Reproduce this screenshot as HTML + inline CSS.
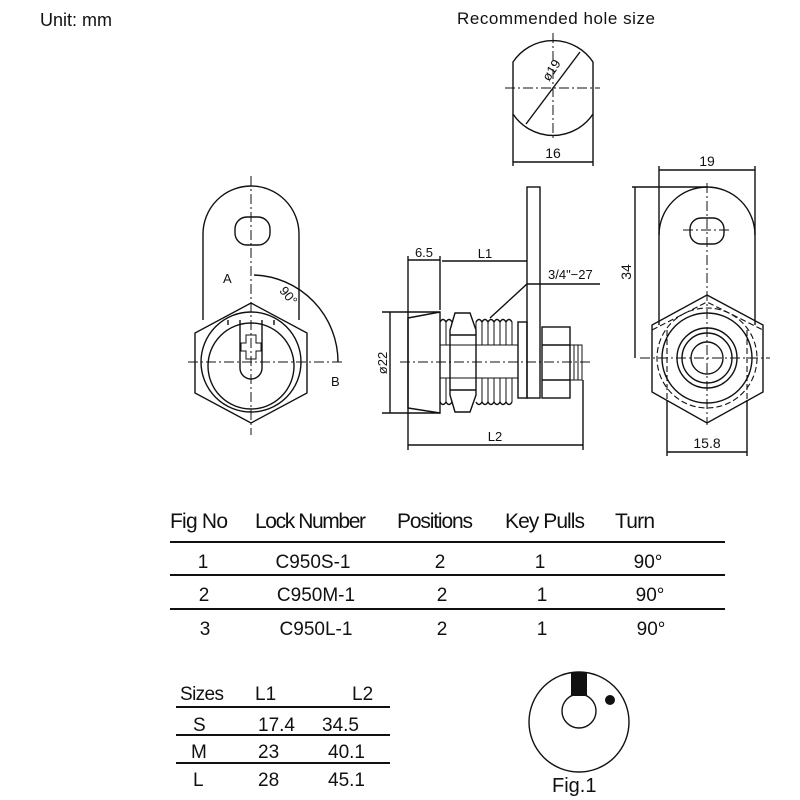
<!DOCTYPE html>
<html><head><meta charset="utf-8"><style>html,body{margin:0;padding:0;background:#fff}svg{display:block}text{font-family:"Liberation Sans Narrow","Liberation Sans",sans-serif;fill:#111}</style></head><body>
<svg width="800" height="800" viewBox="0 0 800 800" xmlns="http://www.w3.org/2000/svg">
<g fill="none" stroke="#111" stroke-width="1.4">
<!-- Hole -->
<path d="M513,62 A48,48 0 0 1 593,62 L593,114 A48,48 0 0 1 513,114 Z"/>
<line x1="526" y1="124" x2="580" y2="52"/>
<g stroke-dasharray="10,3,2,3" stroke-width="1"><line x1="505" y1="88" x2="600" y2="88"/><line x1="553" y1="33" x2="553" y2="140"/></g>
<line x1="513" y1="114" x2="513" y2="166"/><line x1="593" y1="114" x2="593" y2="166"/><line x1="513" y1="162" x2="593" y2="162"/>
<!-- Left view -->
<path d="M203,320 L203,234 A48,48 0 0 1 299,234 L299,320"/>
<rect x="235" y="217" width="35" height="28" rx="12"/>
<polygon points="251,303 307,333 307,393 251,423 195,393 195,333"/>
<circle cx="251" cy="362" r="50"/><circle cx="251" cy="366" r="43"/>
<path d="M228,325 L228,320 M274,325 L274,320 M240,320 L240,368 A11,11 0 0 0 262,368 L262,320"/>
<path d="M246,335 h10 v8 h5 v8 h-5 v8 h-10 v-8 h-5 v-8 h5 z" stroke-width="1"/>
<path d="M254,275 A87,87 0 0 1 338,362"/>
<g stroke-dasharray="10,3,2,3" stroke-width="1"><line x1="188" y1="362" x2="342" y2="362"/><line x1="251" y1="176" x2="251" y2="435"/></g>
<!-- Side view -->
<rect x="527" y="187" width="13" height="211"/>
<polygon points="408,318 440,312 440,413 408,408"/>
<path d="M440,322 q3,-5 6,0 q3,-5 6,0 M476,322 q3,-5 6,0 q3,-5 6,0 q3,-5 6,0 q3,-5 6,0 q3,-5 6,0 q3,-5 6,0 M440,402 q3,5 6,0 q3,5 6,0 M476,402 q3,5 6,0 q3,5 6,0 q3,5 6,0 q3,5 6,0 q3,5 6,0 q3,5 6,0"/>
<path d="M440,322 v80 M440,345 h78 M440,378 h78 M446,322 v23 M476,322 v23 M482,322 v23 M488,322 v23 M494,322 v23 M500,322 v23 M506,322 v23 M512,322 v23 M446,378 v24 M482,378 v24 M488,378 v24 M494,378 v24 M500,378 v24 M506,378 v24 M512,378 v24" stroke-width="1"/>
<polygon points="455,313 470,313 476,330 476,395 470,412 455,412 450,395 450,330"/>
<line x1="450" y1="335" x2="476" y2="335"/><line x1="450" y1="390" x2="476" y2="390"/>
<rect x="518" y="322" width="9" height="76"/>
<rect x="542" y="327" width="28" height="71"/><line x1="542" y1="345" x2="570" y2="345"/><line x1="542" y1="380" x2="570" y2="380"/>
<path d="M570,345 h12 v35 h-12 M574,345 v35 M578,345 v35" stroke-width="1"/>
<g stroke-dasharray="10,3,2,3" stroke-width="1"><line x1="400" y1="362" x2="590" y2="362"/></g>
<line x1="408" y1="256" x2="408" y2="450"/><line x1="440" y1="256" x2="440" y2="310"/><line x1="408" y1="260" x2="440" y2="260"/>
<line x1="442" y1="261" x2="527" y2="261"/><line x1="583" y1="380" x2="583" y2="450"/><line x1="408" y1="445" x2="583" y2="445"/>
<line x1="382" y1="312" x2="440" y2="312"/><line x1="382" y1="413" x2="440" y2="413"/><line x1="390" y1="312" x2="390" y2="413"/>
<polyline points="490,318 527,284 600,284"/>
<!-- Right view -->
<path d="M659,325 L659,235 A48,48 0 0 1 755,235 L755,325"/>
<rect x="690" y="218" width="34" height="26" rx="11"/>
<polygon points="707,295 763,325 763,392 707,423 652,392 652,325"/>
<g stroke-dasharray="6,3" stroke-width="1.1"><polyline points="652,330 707,302 763,330"/><circle cx="707" cy="358" r="50"/><line x1="667" y1="330" x2="667" y2="400"/><line x1="747" y1="330" x2="747" y2="400"/></g>
<circle cx="707" cy="358" r="45"/><circle cx="707" cy="358" r="30"/><circle cx="707" cy="358" r="25"/><circle cx="707" cy="358" r="16"/>
<g stroke-dasharray="10,3,2,3" stroke-width="1"><line x1="640" y1="358" x2="770" y2="358"/><line x1="707" y1="183" x2="707" y2="425"/><line x1="683" y1="230" x2="730" y2="230"/></g>
<line x1="659" y1="166" x2="659" y2="235"/><line x1="755" y1="166" x2="755" y2="235"/><line x1="659" y1="170" x2="755" y2="170"/>
<line x1="632" y1="187" x2="707" y2="187"/><line x1="635" y1="187" x2="635" y2="358"/>
<line x1="667" y1="400" x2="667" y2="456"/><line x1="747" y1="400" x2="747" y2="456"/><line x1="667" y1="452" x2="747" y2="452"/>
<!-- tables -->
<g stroke-width="2"><line x1="170" y1="542" x2="725" y2="542"/><line x1="170" y1="575" x2="725" y2="575"/><line x1="170" y1="609" x2="725" y2="609"/>
<line x1="176" y1="707" x2="390" y2="707"/><line x1="176" y1="735" x2="390" y2="735"/><line x1="176" y1="763" x2="390" y2="763"/></g>
<!-- fig1 -->
<circle cx="579" cy="722" r="50"/><circle cx="579" cy="711" r="17"/>
</g>
<rect x="571" y="672" width="16" height="24" fill="#111"/><circle cx="610" cy="700" r="5" fill="#111"/>
<!-- text -->
<text x="40" y="26" font-size="18">Unit:  mm</text>
<text x="457" y="24" font-size="17" textLength="198">Recommended hole size</text>
<text x="549" y="82" font-size="13" transform="rotate(-57 549 82)">ø19</text>
<text x="553" y="158" font-size="14" text-anchor="middle">16</text>
<text x="223" y="283" font-size="13">A</text>
<text x="331" y="386" font-size="13">B</text>
<text x="282" y="300" font-size="13" transform="rotate(50 290 292)">90°</text>
<text x="424" y="257" font-size="13" text-anchor="middle">6.5</text>
<text x="485" y="258" font-size="13" text-anchor="middle">L1</text>
<text x="548" y="279" font-size="13">3/4"−27</text>
<text x="387" y="363" font-size="13" text-anchor="middle" transform="rotate(-90 387 363)">ø22</text>
<text x="495" y="441" font-size="13" text-anchor="middle">L2</text>
<text x="707" y="166" font-size="14" text-anchor="middle">19</text>
<text x="631" y="272" font-size="14" text-anchor="middle" transform="rotate(-90 631 272)">34</text>
<text x="707" y="448" font-size="14" text-anchor="middle">15.8</text>
<g font-size="21">
<text x="170" y="528" textLength="58">Fig No</text><text x="255" y="528" textLength="111">Lock Number</text><text x="397" y="528" textLength="76">Positions</text><text x="505" y="528" textLength="80">Key Pulls</text><text x="615" y="528" textLength="40">Turn</text>
</g>
<g font-size="19" text-anchor="middle">
<text x="203" y="568">1</text><text x="313" y="568">C950S-1</text><text x="440" y="568">2</text><text x="540" y="568">1</text><text x="648" y="568">90°</text>
<text x="204" y="601">2</text><text x="316" y="601">C950M-1</text><text x="442" y="601">2</text><text x="542" y="601">1</text><text x="650" y="601">90°</text>
<text x="205" y="635">3</text><text x="316" y="635">C950L-1</text><text x="442" y="635">2</text><text x="542" y="635">1</text><text x="651" y="635">90°</text>
</g>
<g font-size="19">
<text x="180" y="700" textLength="44">Sizes</text><text x="255" y="700">L1</text><text x="352" y="700">L2</text>
<text x="193" y="731">S</text><text x="258" y="731">17.4</text><text x="322" y="731">34.5</text>
<text x="191" y="758">M</text><text x="258" y="758">23</text><text x="328" y="758">40.1</text>
<text x="193" y="786">L</text><text x="258" y="786">28</text><text x="328" y="786">45.1</text>
<text x="552" y="792" font-size="20">Fig.1</text>
</g>
</svg>
</body></html>
